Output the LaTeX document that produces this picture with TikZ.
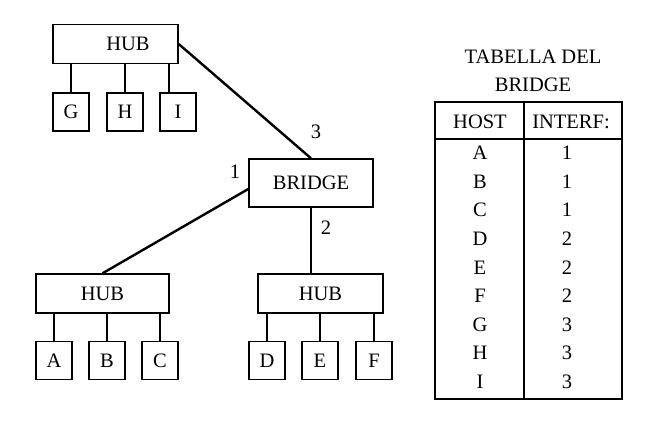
\documentclass[tikz,border=0pt]{standalone}
\usepackage{fontspec}
\setmainfont{Liberation Serif}
\usepackage{tikz}
\usetikzlibrary{positioning}

\begin{document}
\begin{tikzpicture}[x=1pt,y=-1pt,font=\fontsize{20.5}{28}\selectfont,
  box/.style={draw,line width=1.4pt,inner sep=0pt},
  hub/.style={box,minimum width=128pt,minimum height=39pt},
  host/.style={box,minimum width=36pt,minimum height=38pt},
  link/.style={line width=1.4pt},
  trunk/.style={line width=2.4pt}]
\useasboundingbox (0,0) rectangle (663,431);
% rete a sinistra
\node[hub,minimum width=125pt] (hubg) at (115.5,44) {\hspace*{25pt}HUB};
\node[host] (g) at (71,112) {G};
\node[host] (h) at (125,112) {H};
\node[host] (i) at (178,112) {I};
\node[box,minimum width=124pt,minimum height=48pt] (br) at (311,183) {BRIDGE};
\node[hub,minimum width=133pt] (huba) at (102.5,293.5) {HUB};
\node[hub,minimum width=125pt] (hubd) at (320.5,293.5) {HUB};
\node[host] (a) at (54,360.5) {A};
\node[host] (b) at (107,360.5) {B};
\node[host] (c) at (160,360.5) {C};
\node[host] (d) at (267,360.5) {D};
\node[host] (e) at (320,360.5) {E};
\node[host] (f) at (374,360.5) {F};
\node (p1) at (235,172) {1};
\node (p2) at (326,228) {2};
\node (p3) at (316,132) {3};
\draw[link] (g.north) -- (g.north |- hubg.south);
\draw[link] (h.north) -- (h.north |- hubg.south);
\draw[link] ([xshift=-9pt]i.north) -- ([xshift=-9pt]i.north |- hubg.south);
\draw[link] (a.north) -- (a.north |- huba.south);
\draw[link] (b.north) -- (b.north |- huba.south);
\draw[link] (c.north) -- (c.north |- huba.south);
\draw[link] (d.north) -- (d.north |- hubd.south);
\draw[link] (e.north) -- (e.north |- hubd.south);
\draw[link] (f.north) -- (f.north |- hubd.south);
\draw[trunk] (hubg.east) -- (br.north);
\draw[trunk] ([yshift=-6pt]br.west) -- (huba.north);
\draw[link] (br.south) -- (br.south |- hubd.north);
% tabella del bridge
\node[align=center] (tit) at (533,71) {TABELLA DEL\\BRIDGE};
\draw[line width=1.4pt] (435,102) rectangle (622,399);
\draw[line width=1.4pt] (524,102) -- (524,399) (435,139) -- (622,139);
\node (host) at (480,122) {HOST};
\node (intf) at (571,122) {INTERF:};
\foreach \h/\n [count=\i from 0] in {A/1,B/1,C/1,D/2,E/2,F/2,G/3,H/3,I/3}
  \node (t\h) at (480,{153+28.6*\i}) {\h} node (n\h) at (567,{153+28.6*\i}) {\n};
\end{tikzpicture}
\end{document}
